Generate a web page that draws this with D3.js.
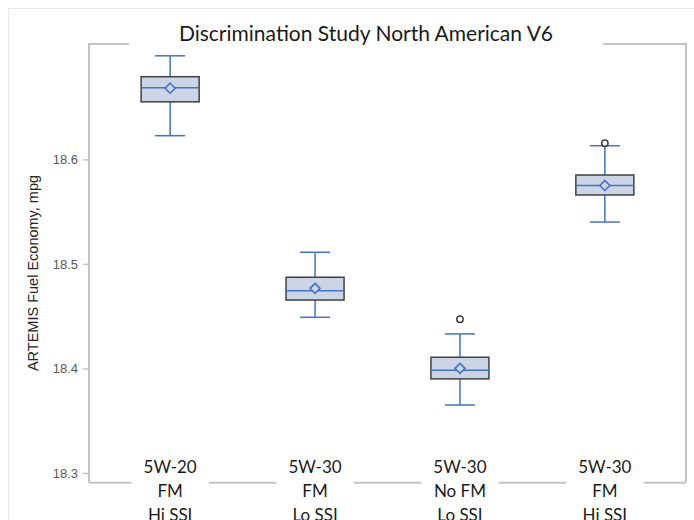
<!DOCTYPE html>
<html>
	<head>
		<title>Discrimination Study North American V6</title>
		<script src="https://d3js.org/d3.v7.min.js"></script>
		<style>
			body { margin: 0; background: #fff; }
		</style>
	</head>
	<body>
		<svg width="694" height="520"></svg>

		<script type="text/javascript">
			var groups = ['5W-20|FM|Hi SSI', '5W-30|FM|Lo SSI', '5W-30|No FM|Lo SSI', '5W-30|FM|Hi SSI'];
			var whiskerLow  = [18.6226, 18.4489, 18.365, 18.540];
			var q1          = [18.655, 18.4654, 18.390, 18.5659];
			var medians     = [18.6685, 18.4743, 18.3982, 18.575];
			var q3          = [18.679, 18.4872, 18.4107, 18.585];
			var whiskerHigh = [18.699, 18.5111, 18.433, 18.613];
			var means       = [18.668, 18.4766, 18.4001, 18.575];
			var outliers    = [[], [], [18.447], [18.6153]];
			var yTicks = [18.3, 18.4, 18.5, 18.6];

			var plotLeft = 89, plotRight = 686, plotTop = 44, plotBottom = 482.7;
			var svg = d3.select('svg');

			var x = d3.scalePoint()
				.domain(groups)
				.range([plotLeft, plotRight])
				.padding(0.56);

			var y = d3.scaleLinear()
				.domain([18.2907, 18.7103])
				.range([plotBottom, plotTop]);

			var frameColor = '#c4c4c4';
			var blue = '#4472c4';

			// outer light border
			svg.append('path')
				.attr('d', 'M8.5,520 V8.5 H694')
				.attr('fill', 'none')
				.attr('stroke', '#e8e8e8')
				.attr('stroke-width', 1);

			// y axis
			var yAxis = d3.axisLeft(y)
				.tickValues(yTicks)
				.tickFormat(d3.format('.1f'))
				.tickSize(6)
				.tickSizeOuter(0)
				.tickPadding(5);

			var ax = svg.append('g')
				.attr('transform', 'translate(' + plotLeft + ',0)')
				.call(yAxis);
			ax.select('.domain').remove();
			ax.selectAll('.tick line').attr('stroke', frameColor).attr('stroke-width', 1.5);
			ax.selectAll('.tick text')
				.attr('fill', '#595959')
				.style('font-family', 'Liberation Sans, Arial, sans-serif')
				.style('font-size', '13px');

			svg.append('text')
				.attr('transform', 'translate(38,273) rotate(-90)')
				.attr('text-anchor', 'middle')
				.attr('fill', '#262626')
				.style('font-family', 'Liberation Sans, Arial, sans-serif')
				.style('font-size', '14.5px')
				.text('ARTEMIS Fuel Economy, mpg');

			// title
			var title = svg.append('text')
				.attr('x', 366)
				.attr('y', 41)
				.attr('text-anchor', 'middle')
				.attr('fill', '#1a1a1a')
				.style('font-family', 'Lato, sans-serif')
				.style('font-size', '21px')
				.text('Discrimination Study North American V6');

			// category labels
			var labels = svg.append('g').selectAll('text')
				.data(groups)
				.enter().append('text')
				.attr('x', function(d) { return x(d); })
				.attr('y', 473)
				.attr('text-anchor', 'middle')
				.attr('fill', '#1a1a1a')
				.style('font-family', 'Lato, sans-serif')
				.style('font-size', '17px');
			labels.selectAll('tspan')
				.data(function(d) { return d.split('|'); })
				.enter().append('tspan')
				.attr('x', function() { return this.parentNode.getAttribute('x'); })
				.attr('dy', function(d, i) { return i === 0 ? 0 : 24; })
				.text(function(d) { return d; });

			// frame with gaps for title and labels
			var tb = title.node().getBBox();
			var gapPad = 50;
			svg.append('path')
				.attr('d', 'M' + (tb.x - gapPad) + ',' + plotTop + ' H' + plotLeft + ' V' + plotBottom)
				.attr('fill', 'none').attr('stroke', frameColor).attr('stroke-width', 2);
			svg.append('path')
				.attr('d', 'M' + (tb.x + tb.width + gapPad) + ',' + plotTop + ' H' + plotRight + ' V' + plotBottom)
				.attr('fill', 'none').attr('stroke', frameColor).attr('stroke-width', 2);

			var xs = [plotLeft];
			labels.each(function() {
				var b = this.getBBox();
				xs.push(b.x - 12, b.x + b.width + 12);
			});
			xs.push(plotRight);
			for (var k = 0; k < xs.length; k += 2) {
				svg.append('line')
					.attr('x1', xs[k]).attr('x2', xs[k + 1])
					.attr('y1', plotBottom).attr('y2', plotBottom)
					.attr('stroke', frameColor).attr('stroke-width', 2);
			}

			// boxes
			var boxW = 58, capW = 30;
			var boxes = svg.append('g').selectAll('g')
				.data(groups)
				.enter().append('g');

			boxes.append('line')
				.attr('x1', function(d) { return x(d); })
				.attr('x2', function(d) { return x(d); })
				.attr('y1', function(d, i) { return y(whiskerLow[i]); })
				.attr('y2', function(d, i) { return y(whiskerHigh[i]); })
				.attr('stroke', blue).attr('stroke-width', 1.5);

			[whiskerLow, whiskerHigh].forEach(function(arr) {
				boxes.append('line')
					.attr('x1', function(d) { return x(d) - capW / 2; })
					.attr('x2', function(d) { return x(d) + capW / 2; })
					.attr('y1', function(d, i) { return y(arr[i]); })
					.attr('y2', function(d, i) { return y(arr[i]); })
					.attr('stroke', blue).attr('stroke-width', 1.5);
			});

			boxes.append('rect')
				.attr('x', function(d) { return x(d) - boxW / 2; })
				.attr('y', function(d, i) { return y(q3[i]); })
				.attr('width', boxW)
				.attr('height', function(d, i) { return y(q1[i]) - y(q3[i]); })
				.attr('fill', '#ccd5e6')
				.attr('stroke', '#404040')
				.attr('stroke-width', 1.5);

			boxes.append('line')
				.attr('x1', function(d) { return x(d) - boxW / 2; })
				.attr('x2', function(d) { return x(d) + boxW / 2; })
				.attr('y1', function(d, i) { return y(medians[i]); })
				.attr('y2', function(d, i) { return y(medians[i]); })
				.attr('stroke', blue).attr('stroke-width', 1.5);

			boxes.append('path')
				.attr('transform', function(d, i) { return 'translate(' + x(d) + ',' + y(means[i]) + ')'; })
				.attr('d', 'M0,-5 L5,0 L0,5 L-5,0 Z')
				.attr('fill', '#ccd5e6')
				.attr('stroke', blue)
				.attr('stroke-width', 1.6);

			boxes.selectAll('circle')
				.data(function(d, i) { return outliers[i].map(function(v) { return {g: d, v: v}; }); })
				.enter().append('circle')
				.attr('cx', function(o) { return x(o.g); })
				.attr('cy', function(o) { return y(o.v); })
				.attr('r', 3.2)
				.attr('fill', '#fff')
				.attr('stroke', '#404040')
				.attr('stroke-width', 1.5);
		</script>
	</body>
</html>
